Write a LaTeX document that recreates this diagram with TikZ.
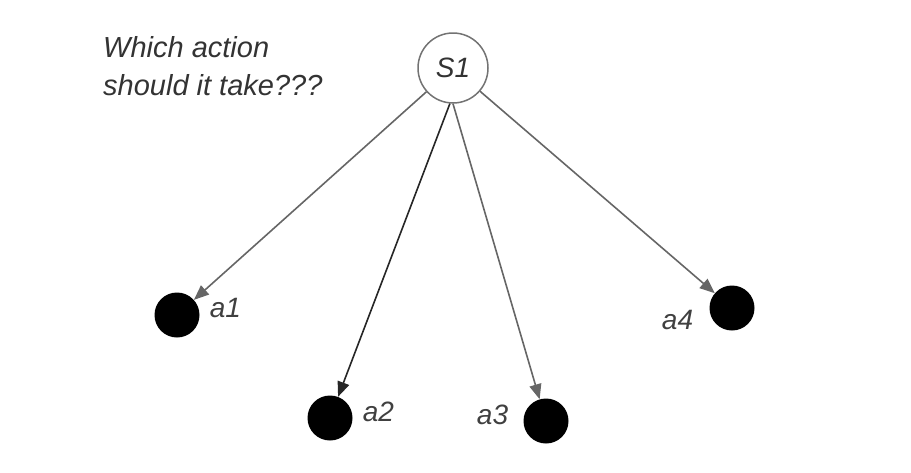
\documentclass[tikz,border=0pt]{standalone}
\usepackage{fontspec}
\setmainfont{Liberation Sans}
\usetikzlibrary{positioning,arrows.meta}

\begin{document}
\begin{tikzpicture}[x=1pt, y=-1pt,
    state/.style={circle, draw=black!55, line width=1.5pt, fill=white, minimum size=70pt, inner sep=0pt, font=\fontsize{28}{34}\selectfont\itshape, text=black!80},
    action/.style={circle, fill=black, minimum size=45pt, inner sep=0pt},
    act label/.style={inner sep=0pt, font=\fontsize{28}{34}\selectfont\itshape, text=black!75},
    move/.style={draw=black!60, line width=1.6pt, -{Triangle[length=15pt,width=12pt]}},
  ]
  \useasboundingbox (0,0) rectangle (911,472);
  \node[state] (s1) at (453,68) {S1};
  \node[inner sep=0pt, anchor=north west, align=left, font=\fontsize{29}{38}\selectfont\itshape, text=black!80] (question) at (103,36) {Which action\\should it take???};
  \node[action] (a1) at (177,315) {};
  \node[action] (a2) at (330,418) {};
  \node[action] (a3) at (546,421) {};
  \node[action] (a4) at (732,308) {};
  \node[act label, right=10pt of a1, yshift=7pt] (l1) {a1};
  \node[act label, right=10pt of a2, yshift=6pt] (l2) {a2};
  \node[act label, left=15pt of a3, yshift=6pt] (l3) {a3};
  \node[act label, left=16pt of a4, yshift=-12pt] (l4) {a4};
  \draw[move] (s1) -- (a1);
  \draw[move, draw=black!85] (s1.265) -- (a2);
  \draw[move] (s1.270) -- (a3);
  \draw[move] (s1) -- (a4);
\end{tikzpicture}
\end{document}
